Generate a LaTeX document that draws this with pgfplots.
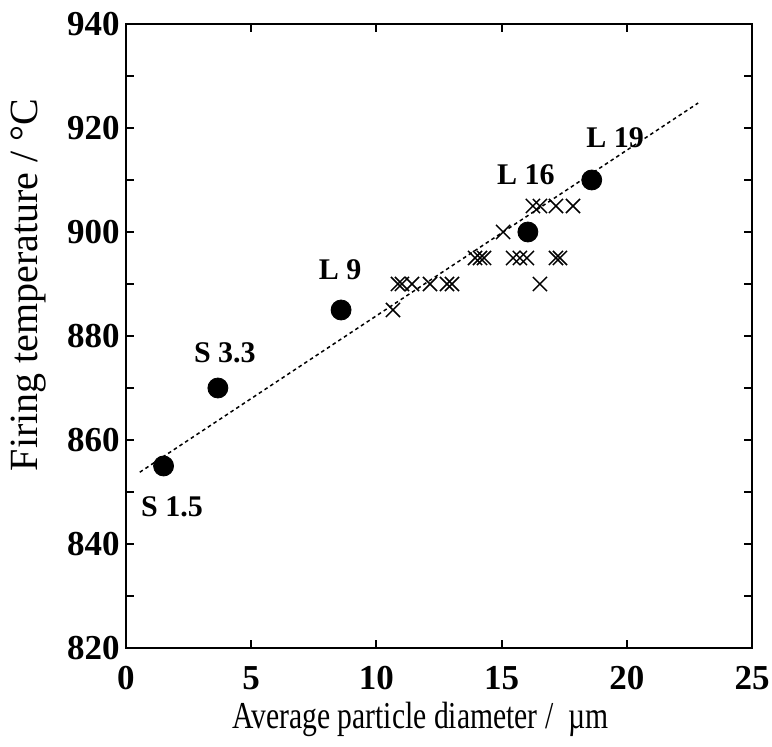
\documentclass[border=0pt]{standalone}
\usepackage{pgfplots}
\pgfplotsset{compat=1.18}
\usepackage{fontspec}
\setmainfont{Liberation Serif}
\newfontfamily\narrowfont[FakeStretch=0.78]{Liberation Serif}
\begin{document}
\begin{tikzpicture}
\begin{axis}[
  at={(0,0)}, anchor=south west,
  scale only axis, width=313pt, height=312pt,
  xmin=0, xmax=25, ymin=820, ymax=940,
  xtick={0,5,...,25}, ytick={820,840,...,940},
  minor ytick={830,850,...,930},
  tick align=inside, major tick length=4pt, minor tick length=4pt,
  axis line style={line width=1pt},
  every tick/.style={line width=1pt, black},
  /pgf/number format/assume math mode=true,
  ticklabel style={font=\fontsize{17.5}{20}\selectfont\bfseries, inner sep=0pt},
  xticklabel style={yshift=-9pt},
  yticklabel style={xshift=-3pt},
  xlabel={Average particle diameter /\ \ µm},
  ylabel={Firing temperature / °C},
  xlabel style={font=\narrowfont\fontsize{19}{22}\selectfont, at={(axis description cs:0.47,-0.1295)}, anchor=base, inner sep=0pt},
  ylabel style={font=\fontsize{20}{24}\selectfont, at={(axis description cs:-0.1565,0.582)}, anchor=center, inner sep=0pt},
  clip=false,
]
\addplot[line width=0.75pt, dash pattern=on 1.8pt off 1.6pt] coordinates {(0.55,853.8) (22.85,924.8)};
\addplot[only marks, mark=x, mark size=5pt, mark options={line width=0.75pt, black}] coordinates {
(10.66,885)
(10.86,890) (11.02,890) (11.42,890) (12.14,890) (12.82,890) (13.02,890) (16.53,890)
(13.94,895) (14.14,895) (14.30,895) (15.46,895) (15.73,895) (16.01,895) (17.17,895) (17.33,895)
(15.06,900)
(16.25,905) (16.53,905) (17.17,905) (17.85,905)
};
\addplot[only marks, mark=*, mark size=5pt, mark options={black, fill=black}] coordinates {
(1.5,855) (3.67,870) (8.59,885) (16.05,900) (18.6,910)
};
\begin{scope}[every node/.style={font=\fontsize{15}{18}\selectfont\bfseries, inner sep=0pt, anchor=center}]
\node at (axis cs:1.84,847.1) {S 1.5};
\node at (axis cs:3.95,876.7) {S 3.3};
\node at (axis cs:8.55,892.7) {L 9};
\node at (axis cs:15.97,911.0) {L 16};
\node at (axis cs:19.53,918.1) {L 19};
\end{scope}
\end{axis}
\pgfresetboundingbox
\path[use as bounding box] (-63pt,-49.5pt) rectangle (323pt,324pt);
\end{tikzpicture}
\end{document}
